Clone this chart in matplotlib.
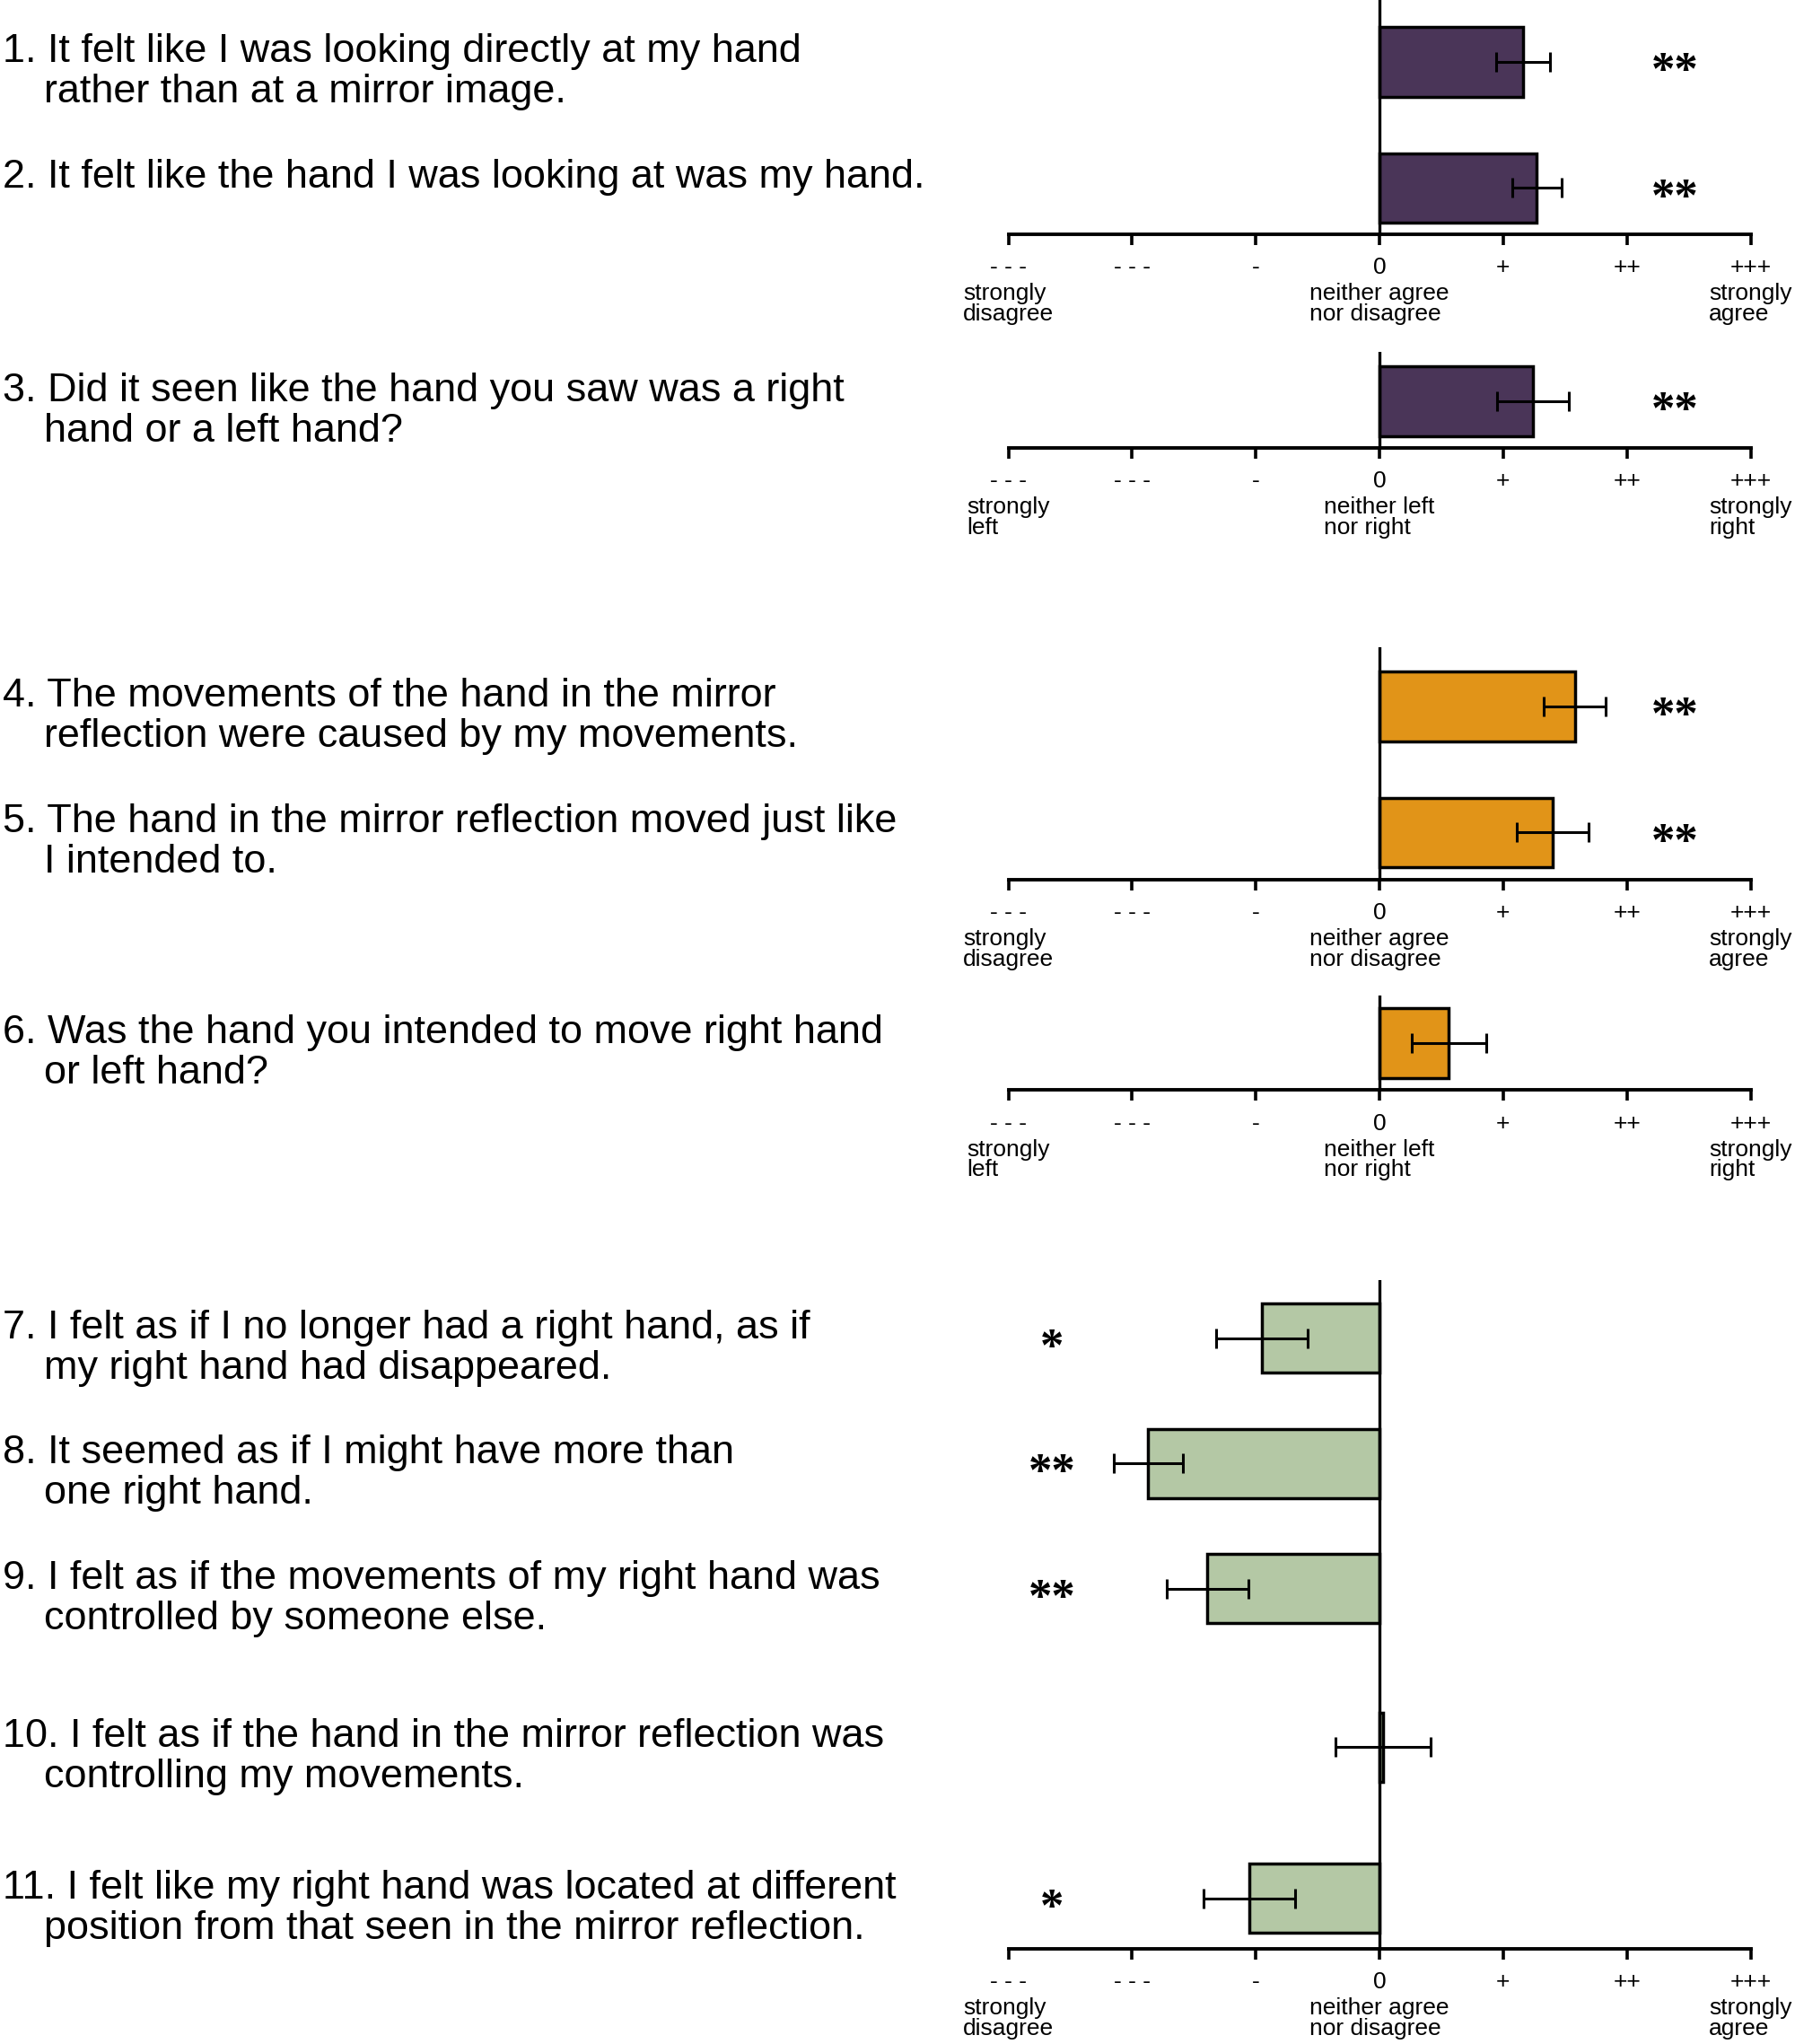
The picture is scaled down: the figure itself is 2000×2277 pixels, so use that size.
"""Questionnaire ratings (mean +/- SEM) for the mirror-hand illusion items."""

import matplotlib

matplotlib.use("Agg")
import matplotlib.pyplot as plt
from matplotlib.transforms import blended_transform_factory

plt.rcParams["font.family"] = ["Liberation Sans", "DejaVu Sans"]

# --- data -----------------------------------------------------------------
QUESTIONS = [
    ["1. It felt like I was looking directly at my hand", "rather than at a mirror image."],
    ["2. It felt like the hand I was looking at was my hand."],
    ["3. Did it seen like the hand you saw was a right", "hand or a left hand?"],
    ["4. The movements of the hand in the mirror", "reflection were caused by my movements."],
    ["5. The hand in the mirror reflection moved just like", "I intended to."],
    ["6. Was the hand you intended to move right hand", "or left hand?"],
    ["7. I felt as if I no longer had a right hand, as if", "my right hand had disappeared."],
    ["8. It seemed as if I might have more than", "one right hand."],
    ["9. I felt as if the movements of my right hand was", "controlled by someone else."],
    ["10. I felt as if the hand in the mirror reflection was", "controlling my movements."],
    ["11. I felt like my right hand was located at different", "position from that seen in the mirror reflection."],
]
MEANS = [1.16, 1.27, 1.24, 1.58, 1.40, 0.56, -0.95, -1.87, -1.39, 0.03, -1.055]
SEMS = [0.22, 0.20, 0.29, 0.25, 0.29, 0.30, 0.37, 0.28, 0.33, 0.385, 0.37]
STARS = ["**", "**", "**", "**", "**", "", "*", "**", "**", "", "*"]

TICKS = [-3, -2, -1, 0, 1, 2, 3]
TICK_LABELS = ["- - -", "- - -", "-", "0", "+", "++", "+++"]
AGREE_SCALE = ["strongly\ndisagree", "neither agree\nnor disagree", "strongly\nagree"]
SIDE_SCALE = ["strongly\nleft", "neither left\nnor right", "strongly\nright"]

PURPLE = "#4a3558"
ORANGE = "#e19418"
GREEN = "#b4c8a5"

# --- layout (reference drawn on a 1376 x 1567 grid) -----------------------
GRID_W, GRID_H = 1376.0, 1566.6
PITCH = 96.5          # grid px between neighbouring bars
BAR_H = 0.55          # in rows
X_LEFT, X_RIGHT = 773.0, 1342.0

# question indices, first bar centre (grid px), row offsets, top/bottom margin, colour, scale
PANELS = [
    ([0, 1], 47.5, [0, 1], 0.49, 0.368, PURPLE, AGREE_SCALE),
    ([2], 307.5, [0], 0.39, 0.368, PURPLE, SIDE_SCALE),
    ([3, 4], 541.5, [0, 1], 0.47, 0.375, ORANGE, AGREE_SCALE),
    ([5], 799.5, [0], 0.38, 0.373, ORANGE, SIDE_SCALE),
    ([6, 7, 8, 9, 10], 1025.5, [0, 0.995, 1.99, 3.25, 4.45], 0.46, 0.40, GREEN, AGREE_SCALE),
]

fig = plt.figure(figsize=(20, 22.77), dpi=100)

for idx, first, rows, top, bottom, color, scale in PANELS:
    y_top = first - top * PITCH
    y_axis = first + (rows[-1] + bottom) * PITCH
    ax = fig.add_axes([
        X_LEFT / GRID_W,
        1 - y_axis / GRID_H,
        (X_RIGHT - X_LEFT) / GRID_W,
        (y_axis - y_top) / GRID_H,
    ])
    means = [MEANS[i] for i in idx]
    sems = [SEMS[i] for i in idx]

    ax.barh(rows, means, height=BAR_H, color=color, edgecolor="black",
            linewidth=2.5, zorder=2)
    ax.errorbar(means, rows, xerr=sems, fmt="none", ecolor="black",
                elinewidth=2.2, capsize=7.8, capthick=2.2, zorder=3)
    ax.axvline(0, color="black", linewidth=2.4, zorder=4)

    ax.set_xlim(-3, 3)
    ax.set_ylim(rows[-1] + bottom, -top)
    for side in ("left", "right", "top"):
        ax.spines[side].set_visible(False)
    ax.spines["bottom"].set_linewidth(2.8)
    ax.set_yticks([])
    ax.set_xticks(TICKS)
    ax.set_xticklabels(TICK_LABELS)
    ax.tick_params(axis="x", length=8.4, width=2.6, pad=10, labelsize=19)

    for x, label in zip([-3, 0, 3], scale):
        ax.annotate(label, xy=(x, 0), xycoords=("data", "axes fraction"),
                    xytext=(0, -39), textcoords="offset points",
                    ha="center", va="top", multialignment="left",
                    linespacing=0.94, fontsize=19)

    for row, i, m in zip(rows, idx, means):
        if STARS[i]:
            sx = 2.39 if m > 0 else -2.65
            ax.annotate(STARS[i], xy=(sx, row), xytext=(0, -0.48 * 38),
                        textcoords="offset points", ha="center", va="baseline",
                        fontsize=38, fontweight="bold",
                        family=["Liberation Serif", "DejaVu Serif"])

    trans = blended_transform_factory(fig.transFigure, ax.transData)
    for row, i in zip(rows, idx):
        lines = QUESTIONS[i]
        ax.text(2 / GRID_W, row, lines[0], transform=trans, ha="left",
                va="baseline", fontsize=32.4)
        if len(lines) > 1:
            ax.text(34 / GRID_W, row + 31 / PITCH, lines[1], transform=trans,
                    ha="left", va="baseline", fontsize=32.4)

fig.savefig("out.png", dpi=100)
